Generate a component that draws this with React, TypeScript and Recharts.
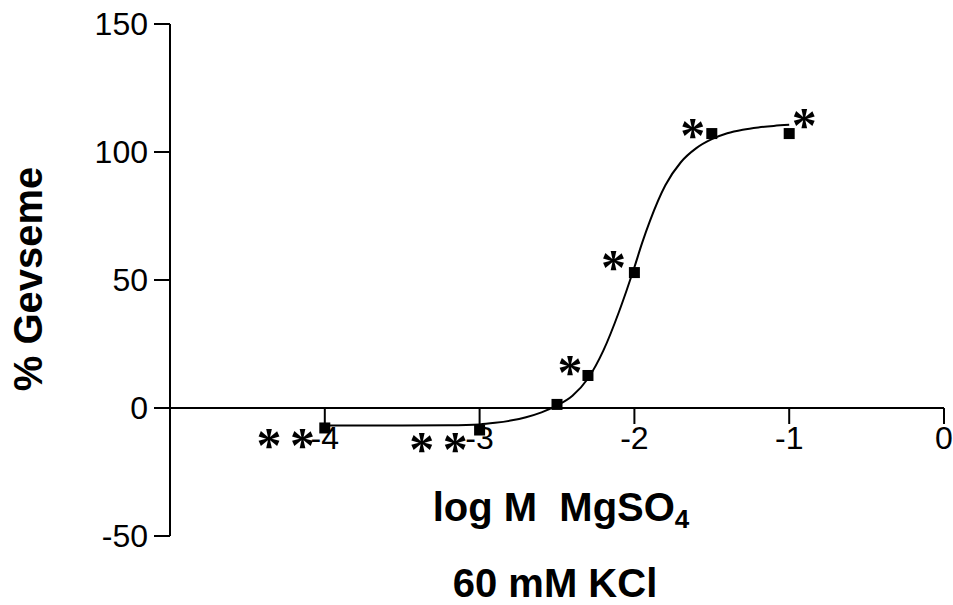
import React from "react";
import {
  ComposedChart,
  Line,
  Scatter,
  XAxis,
  YAxis,
  ReferenceLine,
} from "recharts";

// log concentrations (M) of MgSO4 that were tested
const doseLog = [-4, -3, -2.5, -2.3, -2, -1.5, -1];
// mean relaxation (%) at each dose
const relaxation = [-7.8, -8.6, 1.4, 12.7, 52.9, 107.2, 107.2];
// significance marks drawn beside each point
const marks = ["* *", "* *", "", "*", "*", "*", "*"];

// fitted curve
const curveX = [
  -4, -3.5, -3.2, -3, -2.9, -2.8, -2.7, -2.6, -2.5, -2.4, -2.3, -2.2, -2.1,
  -2.05, -2, -1.95, -1.9, -1.8, -1.7, -1.6, -1.5, -1.4, -1.3, -1.2, -1.1, -1,
];
const curveY = [
  -6.8, -6.8, -6.7, -6.4, -5.8, -4.9, -3.6, -1.7, 1.0, 4.8, 11.5, 22.5, 37.5,
  46, 55, 64.5, 73, 87, 96, 101.5, 105, 107.3, 108.7, 109.6, 110.2, 110.6,
];

const xTicks = [-4, -3, -2, -1, 0];
const yTicks = [-50, 0, 50, 100, 150];

const points = doseLog.map((x, i) => ({ x, y: relaxation[i], mark: marks[i] }));
const curve = curveX.map((x, i) => ({ x, y: curveY[i] }));

// where each asterisk sits relative to its point (px)
const markOffset: Record<number, [number, number]> = {
  [-4]: [-40, 9],
  [-3]: [-42, 11],
  [-2.3]: [-19, -11],
  [-2]: [-22, -14],
  [-1.5]: [-20, -7],
  [-1]: [14, -17],
};

const sans = "'Liberation Sans', Arial, sans-serif";
const STAR_SIZE = 50;

const PointShape = (props: any) => {
  const { cx, cy, payload } = props;
  const off = markOffset[payload.x] || [0, 0];
  return (
    <g>
      <rect x={cx - 5.5} y={cy - 5.5} width={11} height={11} fill="#000" />
      {payload.mark ? (
        <text
          x={cx + off[0]}
          y={cy + off[1] + STAR_SIZE * 0.5}
          textAnchor="middle"
          fontFamily="'Liberation Serif', 'Times New Roman', serif"
          fontWeight="bold"
          fontSize={STAR_SIZE}
          letterSpacing={-2}
          fill="#000"
          style={{ whiteSpace: "pre" }}
        >
          {payload.mark}
        </text>
      ) : null}
    </g>
  );
};

const titleStyle: React.CSSProperties = {
  position: "absolute",
  fontFamily: sans,
  fontWeight: "bold",
  fontSize: 40,
  lineHeight: 1,
  whiteSpace: "pre",
  color: "#000",
};

const App: React.FC = () => {
  return (
    <div
      style={{
        position: "absolute",
        left: 0,
        top: 0,
        width: 953,
        height: 605,
        background: "#fff",
      }}
    >
      <ComposedChart
        width={953}
        height={605}
        margin={{ top: 24, right: 9, bottom: 69, left: 0 }}
      >
        <XAxis
          type="number"
          dataKey="x"
          domain={[-5, 0]}
          hide
          height={0}
          allowDataOverflow
        />
        <YAxis
          type="number"
          dataKey="y"
          domain={[-50, 150]}
          ticks={yTicks}
          interval={0}
          width={170}
          tickSize={16}
          tickMargin={6}
          axisLine={{ stroke: "#000", strokeWidth: 2 }}
          tickLine={{ stroke: "#000", strokeWidth: 2 }}
          tick={{ fill: "#000", fontSize: 32, fontFamily: sans }}
          allowDataOverflow
        />
        <ReferenceLine y={0} stroke="#000" strokeWidth={2} />
        {xTicks.map((t) => (
          <ReferenceLine
            key={t}
            segment={[
              { x: t, y: 0 },
              { x: t, y: -6.25 },
            ]}
            stroke="#000"
            strokeWidth={2}
            ifOverflow="visible"
            label={{
              value: String(t),
              position: "bottom",
              offset: 2,
              fill: "#000",
              fontSize: 32,
              fontFamily: sans,
            }}
          />
        ))}
        <Line
          data={curve}
          dataKey="y"
          type="monotone"
          stroke="#000"
          strokeWidth={2}
          dot={false}
          activeDot={false}
          isAnimationActive={false}
        />
        <Scatter
          data={points}
          dataKey="y"
          shape={PointShape}
          isAnimationActive={false}
        />
      </ComposedChart>

      <div
        style={{
          ...titleStyle,
          left: 28,
          top: 279,
          transform: "translate(-50%, -50%) rotate(-90deg)",
        }}
      >
        % Gevseme
      </div>
      <div
        style={{
          ...titleStyle,
          left: 561,
          top: 487,
          transform: "translateX(-50%)",
        }}
      >
        {"log M  MgSO"}
        <span style={{ fontSize: 26, position: "relative", top: 7 }}>4</span>
      </div>
      <div
        style={{
          ...titleStyle,
          left: 555,
          top: 563,
          transform: "translateX(-50%)",
        }}
      >
        60 mM KCl
      </div>
    </div>
  );
};

export default App;
